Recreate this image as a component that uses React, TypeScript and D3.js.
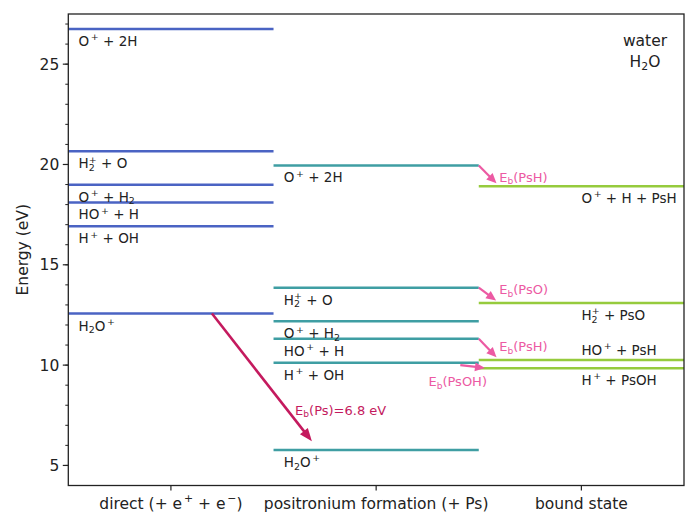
import React from 'react';
import * as d3 from 'd3';

// Energy levels of water fragments (eV)
const categories = ['direct (+ e^+ + e^−)', 'positronium formation (+ Ps)', 'bound state'];
const directLabels = ['O^+ + 2H', 'H_2^+ + O', 'O^+ + H_2', 'HO^+ + H', 'H^+ + OH', 'H_2O^+'];
const directEnergies = [26.75, 20.66, 18.99, 18.11, 16.92, 12.57];
const psLabels = ['O^+ + 2H', 'H_2^+ + O', 'O^+ + H_2', 'HO^+ + H', 'H^+ + OH', 'H_2O^+'];
const psEnergies = [19.95, 13.86, 12.19, 11.31, 10.12, 5.77];
const boundLabels = ['O^+ + H + PsH', 'H_2^+ + PsO', 'HO^+ + PsH', 'H^+ + PsOH'];
const boundEnergies = [18.92, 13.1, 10.25, 9.85];
const psBindingEnergy = 6.8;
const yTicks = [5, 10, 15, 20, 25];
const yMinorTicks = d3.range(5, 28, 1);

// binding-energy arrows: positronium-formation level -> bound-state level
const bindingFrom = [0, 1, 3, 4];
const bindingTo = [0, 1, 2, 3];
const bindingLabels = ['E_b(PsH)', 'E_b(PsO)', 'E_b(PsH)', 'E_b(PsOH)'];

const W = 692;
const H = 512;
const M = { left: 68.3, right: 684, top: 14, bottom: 485.5 };
const FONT = 'DejaVu Sans, sans-serif';

type Seg = { t: string; kind: 'n' | 'sup' | 'sub' | 'stack'; t2?: string };

function parseMarkup(s: string): Seg[] {
  const segs: Seg[] = [];
  let buf = '';
  const flush = () => {
    if (buf) segs.push({ t: buf, kind: 'n' });
    buf = '';
  };
  for (let i = 0; i < s.length; i++) {
    const c = s[i];
    if (c === '_') {
      flush();
      const sub = s[i + 1];
      if (s[i + 2] === '^') {
        segs.push({ t: sub, kind: 'stack', t2: s[i + 3] });
        i += 3;
      } else {
        segs.push({ t: sub, kind: 'sub' });
        i += 1;
      }
    } else if (c === '^') {
      flush();
      segs.push({ t: s[i + 1], kind: 'sup' });
      i += 1;
    } else {
      buf += c;
    }
  }
  flush();
  return segs;
}

// renders simple sub/superscript markup as tspans
function Rich({ text, fs }: { text: string; fs: number }) {
  const segs = parseMarkup(text);
  const out: React.ReactNode[] = [];
  let cur = 0;
  const small = fs * 0.7;
  const supOff = -0.42 * fs;
  const subOff = 0.2 * fs;
  segs.forEach((s, i) => {
    if (s.kind === 'n') {
      out.push(<tspan key={i} dy={0 - cur} fontSize={fs}>{s.t}</tspan>);
      cur = 0;
    } else if (s.kind === 'sup') {
      out.push(<tspan key={i} dx={fs * 0.12} dy={supOff - cur} fontSize={small}>{s.t}</tspan>);
      cur = supOff;
    } else if (s.kind === 'sub') {
      out.push(<tspan key={i} dy={subOff - cur} fontSize={small}>{s.t}</tspan>);
      cur = subOff;
    } else {
      out.push(<tspan key={i + 'a'} dy={subOff - cur} fontSize={small}>{s.t}</tspan>);
      out.push(
        <tspan key={i + 'b'} dx={-small * 0.62} dy={supOff - subOff} fontSize={small}>
          {s.t2}
        </tspan>
      );
      cur = supOff;
    }
  });
  return <>{out}</>;
}

function Arrow({ x1, y1, x2, y2, shrink, color, width, headL, headW }: any) {
  const dx = x2 - x1;
  const dy = y2 - y1;
  const len = Math.hypot(dx, dy);
  const ux = dx / len;
  const uy = dy / len;
  const tx = x2 - ux * shrink;
  const ty = y2 - uy * shrink;
  const bx = tx - ux * headL;
  const by = ty - uy * headL;
  const px = (-uy * headW) / 2;
  const py = (ux * headW) / 2;
  return (
    <g>
      <line x1={x1} y1={y1} x2={bx + ux} y2={by + uy} stroke={color} strokeWidth={width} />
      <polygon points={`${tx},${ty} ${bx + px},${by + py} ${bx - px},${by - py}`} fill={color} />
    </g>
  );
}

export default function App() {
  const x = d3.scaleLinear().domain([-0.5, 2.5]).range([M.left, M.right]);
  const y = d3.scaleLinear().domain([4, 27.5]).range([M.bottom, M.top]);

  const blue = '#4a63c3';
  const teal = '#3f9ea3';
  const green = '#96cb3d';
  const pink = '#ec5aa3';
  const crimson = '#c41a5e';
  const labelFs = 13.5;
  const axisFs = 15.5;
  const ink = '#222';

  const levelLabel = (txt: string, lx: number, ly: number, above: boolean, key: string) => (
    <text key={key} x={lx} y={above ? ly - 5 : ly + 17} fontFamily={FONT} fontSize={labelFs} fill={ink}>
      <Rich text={txt} fs={labelFs} />
    </text>
  );

  return (
    <svg width={W} height={H} style={{ position: 'absolute', left: 0, top: 0, background: '#fff' }}>
      {/* direct ionisation levels */}
      {directEnergies.map((e, i) => (
        <line key={'d' + i} x1={x(-0.5)} x2={x(0.5)} y1={y(e)} y2={y(e)} stroke={blue} strokeWidth={2.5} />
      ))}
      {directEnergies.map((e, i) => levelLabel(directLabels[i], x(-0.45), y(e), false, 'dl' + i))}

      {/* positronium formation levels */}
      {psEnergies.map((e, i) => (
        <line key={'p' + i} x1={x(0.5)} x2={x(1.5)} y1={y(e)} y2={y(e)} stroke={teal} strokeWidth={2.5} />
      ))}
      {psEnergies.map((e, i) => levelLabel(psLabels[i], x(0.55), y(e), false, 'pl' + i))}

      {/* bound-state levels */}
      {boundEnergies.map((e, i) => (
        <line key={'b' + i} x1={x(1.5)} x2={x(2.5)} y1={y(e)} y2={y(e)} stroke={green} strokeWidth={2.5} />
      ))}
      {boundEnergies.map((e, i) => levelLabel(boundLabels[i], x(2.0), y(e), i === 2, 'bl' + i))}

      {/* Ps binding energy arrow */}
      <Arrow
        x1={x(0.2)} y1={y(directEnergies[5])}
        x2={x(0.72)} y2={y(directEnergies[5] - psBindingEnergy)}
        shrink={11} color={crimson} width={2.6} headL={13} headW={10}
      />
      <text x={x(0.605)} y={y(7.53)} fontFamily={FONT} fontSize={13} fill={crimson}>
        <Rich text={`E_b(Ps)=${psBindingEnergy} eV`} fs={13} />
      </text>

      {/* bound-state binding arrows */}
      {bindingFrom.map((fi, k) => {
        const last = k === 3;
        const x1 = last ? x(1.41) : x(1.5);
        const y1 = last ? y(psEnergies[fi] - 0.12) : y(psEnergies[fi]);
        const x2 = last ? x(1.535) : x(1.6);
        const y2 = y(boundEnergies[bindingTo[k]]);
        return (
          <Arrow key={'ba' + k} x1={x1} y1={y1} x2={x2} y2={y2} shrink={last ? 1 : 4}
            color={pink} width={2.2} headL={10} headW={9} />
        );
      })}
      {bindingLabels.map((t, k) => {
        const last = k === 3;
        const offs = [0.23, 0.42, 0.45];
        const lx = last ? x(1.54) : x(1.6);
        const ly = last ? y(boundEnergies[3] - 0.89) : y(boundEnergies[bindingTo[k]] + offs[k]);
        return (
          <text key={'bt' + k} x={lx} y={ly} textAnchor={last ? 'end' : 'start'} fontFamily={FONT}
            fontSize={13} fill={pink}>
            <Rich text={t} fs={13} />
          </text>
        );
      })}

      {/* title */}
      <text x={645} y={46} textAnchor="middle" fontFamily={FONT} fontSize={axisFs} fill={ink}>water</text>
      <text x={645} y={67} textAnchor="middle" fontFamily={FONT} fontSize={axisFs} fill={ink}>
        <Rich text="H_2O" fs={axisFs} />
      </text>

      {/* frame */}
      <rect x={M.left} y={M.top} width={M.right - M.left} height={M.bottom - M.top} fill="none" stroke={ink} strokeWidth={1.3} />

      {/* y axis */}
      {yMinorTicks.map((t) => (
        <line key={'ym' + t} x1={M.left - 3} x2={M.left} y1={y(t)} y2={y(t)} stroke={ink} strokeWidth={1} />
      ))}
      {yTicks.map((t) => (
        <g key={'yt' + t}>
          <line x1={M.left - 5.5} x2={M.left} y1={y(t)} y2={y(t)} stroke={ink} strokeWidth={1.2} />
          <text x={M.left - 9} y={y(t)} dy="0.36em" textAnchor="end" fontFamily={FONT} fontSize={axisFs} fill={ink}>
            {t}
          </text>
        </g>
      ))}
      <text transform={`translate(22,${(M.top + M.bottom) / 2}) rotate(-90)`} textAnchor="middle" dy="0.36em"
        fontFamily={FONT} fontSize={axisFs} fill={ink}>
        Energy (eV)
      </text>

      {/* x axis */}
      {categories.map((c, i) => (
        <g key={'xc' + i}>
          <line x1={x(i)} x2={x(i)} y1={M.bottom} y2={M.bottom + 5} stroke={ink} strokeWidth={1.2} />
          <text x={x(i)} y={508.5} textAnchor="middle" fontFamily={FONT} fontSize={axisFs} fill={ink}>
            <Rich text={c} fs={axisFs} />
          </text>
        </g>
      ))}
    </svg>
  );
}
